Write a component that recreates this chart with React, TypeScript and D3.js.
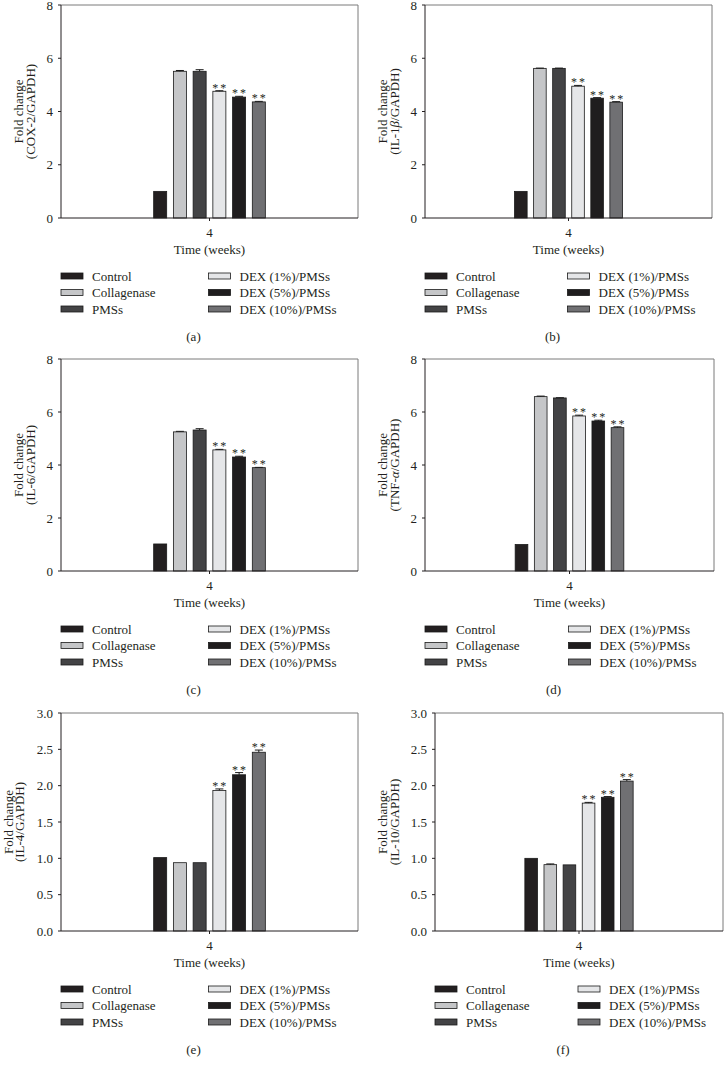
import React from "react";
import * as d3 from "d3";

const groups = ["Control", "Collagenase", "PMSs", "DEX (1%)/PMSs", "DEX (5%)/PMSs", "DEX (10%)/PMSs"];
const colors = ["#231f20", "#c5c6c8", "#434345", "#e5e6e8", "#1f1d1e", "#707073"];
const significant = [false, false, false, true, true, true];

const cox2 = [1.0, 5.51, 5.51, 4.76, 4.54, 4.36];
const cox2Err = [0, 0.03, 0.06, 0.02, 0.03, 0.02];
const il1b = [1.0, 5.62, 5.62, 4.95, 4.5, 4.35];
const il1bErr = [0, 0.01, 0.01, 0.03, 0.02, 0.02];
const il6 = [1.02, 5.25, 5.32, 4.57, 4.3, 3.9];
const il6Err = [0, 0.02, 0.05, 0.02, 0.03, 0.01];
const tnfa = [1.0, 6.58, 6.53, 5.85, 5.66, 5.41];
const tnfaErr = [0, 0.02, 0.01, 0.03, 0.03, 0.03];
const il4 = [1.01, 0.94, 0.94, 1.935, 2.15, 2.46];
const il4Err = [0, 0, 0, 0.02, 0.03, 0.03];
const il10 = [1.0, 0.913, 0.91, 1.76, 1.84, 2.063];
const il10Err = [0, 0.01, 0, 0.01, 0.01, 0.02];

const ticksPro = [0, 2, 4, 6, 8];
const ticksAnti = [0, 0.5, 1.0, 1.5, 2.0, 2.5, 3.0];
const xTickLabel = "4";
const xTitle = "Time (weeks)";

type Seg = { t: string; i?: boolean };

const panels = [
  { id: "(a)", values: cox2, errs: cox2Err, ticks: ticksPro, fmt: "d", label: [{ t: "(COX-2/GAPDH)" }] as Seg[], left: 61, right: 358, top: 5, bottom: 218, l1: 43, l2: 31 },
  { id: "(b)", values: il1b, errs: il1bErr, ticks: ticksPro, fmt: "d", label: [{ t: "(IL-1" }, { t: "β", i: true }, { t: "/GAPDH)" }] as Seg[], left: 425, right: 712, top: 5, bottom: 218, l1: 43, l2: 31 },
  { id: "(c)", values: il6, errs: il6Err, ticks: ticksPro, fmt: "d", label: [{ t: "(IL-6/GAPDH)" }] as Seg[], left: 61, right: 358, top: 359, bottom: 571, l1: 43, l2: 31 },
  { id: "(d)", values: tnfa, errs: tnfaErr, ticks: ticksPro, fmt: "d", label: [{ t: "(TNF-" }, { t: "α", i: true }, { t: "/GAPDH)" }] as Seg[], left: 425, right: 714, top: 359, bottom: 571, l1: 43, l2: 31 },
  { id: "(e)", values: il4, errs: il4Err, ticks: ticksAnti, fmt: ".1f", label: [{ t: "(IL-4/GAPDH)" }] as Seg[], left: 61, right: 358, top: 713, bottom: 931, l1: 53, l2: 42 },
  { id: "(f)", values: il10, errs: il10Err, ticks: ticksAnti, fmt: ".1f", label: [{ t: "(IL-10/GAPDH)" }] as Seg[], left: 435, right: 723, top: 713, bottom: 931, l1: 53, l2: 41 },
];

const FONT = "'Liberation Serif', 'Times New Roman', serif";

function Panel({ p }: { p: (typeof panels)[number] }) {
  const w = p.right - p.left;
  const cx = (p.left + p.right) / 2;
  const half = w * 0.188;
  const x = d3.scaleBand<string>().domain(groups).range([cx - half, cx + half]).paddingInner(0.34).paddingOuter(0);
  const yMax = p.ticks[p.ticks.length - 1];
  const y = d3.scaleLinear().domain([0, yMax]).range([p.bottom, p.top]);
  const f = d3.format(p.fmt);
  const bw = x.bandwidth();
  const midY = (p.top + p.bottom) / 2;
  return (
    <g fontFamily={FONT} fill="#231f20">
      <line x1={p.left} x2={p.right} y1={p.top} y2={p.top} stroke="#7a7a7a" strokeWidth={1} />
      <line x1={p.right} x2={p.right} y1={p.top} y2={p.bottom} stroke="#7a7a7a" strokeWidth={1} />
      {groups.map((g, i) => {
        const v = p.values[i];
        const e = p.errs[i];
        const bx = x(g)!;
        const top = y(v);
        const errTop = y(v + e);
        const bc = bx + bw / 2;
        return (
          <g key={g}>
            <rect x={bx} y={top} width={bw} height={p.bottom - top} fill={colors[i]} stroke="#1a1a1a" strokeWidth={0.8} />
            {e > 0 && (
              <g stroke="#1a1a1a" strokeWidth={1}>
                <line x1={bc} x2={bc} y1={top} y2={errTop} />
                <line x1={bc - 4} x2={bc + 4} y1={errTop} y2={errTop} />
              </g>
            )}
            {significant[i] && (
              <text x={bc + 1} y={errTop + 1} textAnchor="middle" fontSize={12} letterSpacing={2} fill="#231f20">**</text>
            )}
          </g>
        );
      })}
      <line x1={p.left} x2={p.left} y1={p.top} y2={p.bottom} stroke="#231f20" strokeWidth={1} />
      <line x1={p.left} x2={p.right} y1={p.bottom} y2={p.bottom} stroke="#231f20" strokeWidth={1} />
      {p.ticks.map((t) => (
        <g key={t}>
          <line x1={p.left - 3} x2={p.left} y1={y(t)} y2={y(t)} stroke="#231f20" />
          <text x={p.left - 8} y={y(t)} textAnchor="end" dominantBaseline="central" fontSize={13}>{f(t)}</text>
        </g>
      ))}
      <line x1={cx} x2={cx} y1={p.bottom} y2={p.bottom + 3} stroke="#231f20" />
      <text x={cx} y={p.bottom + 14} textAnchor="middle" dominantBaseline="central" fontSize={13}>{xTickLabel}</text>
      <text x={cx} y={p.bottom + 31} textAnchor="middle" dominantBaseline="central" fontSize={13}>{xTitle}</text>
      <text transform={`translate(${p.left - p.l1},${midY}) rotate(-90)`} textAnchor="middle" dominantBaseline="central" fontSize={13}>Fold change</text>
      <text transform={`translate(${p.left - p.l2},${midY}) rotate(-90)`} textAnchor="middle" dominantBaseline="central" fontSize={13}>
        {p.label.map((s, k) => (
          <tspan key={k} fontStyle={s.i ? "italic" : "normal"}>{s.t}</tspan>
        ))}
      </text>
      {groups.map((g, i) => {
        const col = Math.floor(i / 3);
        const row = i % 3;
        const sx = col === 0 ? p.left : cx - 1;
        const ly = p.bottom + 58 + row * 16.5;
        return (
          <g key={"lg" + g}>
            <rect x={sx} y={ly - 3} width={22} height={6} fill={colors[i]} stroke="#1a1a1a" strokeWidth={0.8} />
            <text x={sx + 31} y={ly} dominantBaseline="central" fontSize={13}>{g}</text>
          </g>
        );
      })}
      <text x={cx - 16} y={p.bottom + 118} textAnchor="middle" dominantBaseline="central" fontSize={13}>{p.id}</text>
    </g>
  );
}

export default function App() {
  return (
    <div style={{ position: "absolute", left: 0, top: 0 }}>
      <svg width={724} height={1068} style={{ display: "block", background: "#fff" }}>
        {panels.map((p) => (
          <Panel key={p.id} p={p} />
        ))}
      </svg>
    </div>
  );
}
